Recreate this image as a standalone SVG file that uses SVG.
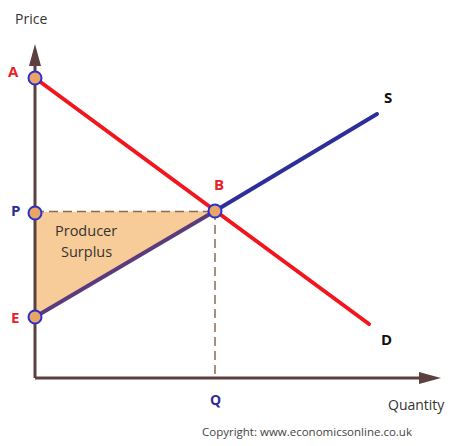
<svg xmlns="http://www.w3.org/2000/svg" width="457" height="446" viewBox="0 0 457 446">
<defs>
<style>
.t{font-family:"Open Sans","Liberation Sans",sans-serif;}
.lbl{font-family:"Open Sans","Liberation Sans",sans-serif;font-weight:bold;font-size:15px;}
.dot{fill:#E9A566;stroke:#2B2FD0;stroke-width:2;}
.dash{stroke:#8B6B4E;stroke-width:1.5;stroke-dasharray:9,5;fill:none;}
</style>
</defs>
<rect width="457" height="446" fill="#fff"/>
<g id="area">
<polygon points="35,212 215,211 35,317" fill="#F8CC98"/>
</g>
<g id="connectors">
<line class="dash" x1="35" y1="211.5" x2="215" y2="211.5"/>
<line class="dash" x1="215" y1="211" x2="215" y2="378"/>
<path d="M35,378 L35,62" stroke="#5C4040" stroke-width="3" fill="none"/>
<path d="M35,378 L423,378" stroke="#5C4040" stroke-width="3" fill="none"/>
<polygon points="35,44 29,66 41,66" fill="#5C4040"/>
<polygon points="441,378 419,372 419,384" fill="#5C4040"/>
<line x1="35" y1="78" x2="369" y2="324" stroke="#F4141C" stroke-width="4" stroke-linecap="round"/>
<line x1="35" y1="317" x2="215" y2="211" stroke="#5A3C7C" stroke-width="4" stroke-linecap="round"/>
<line x1="215" y1="211" x2="377" y2="114" stroke="#2C2E9A" stroke-width="4" stroke-linecap="round"/>
</g>
<g id="nodeA"><circle class="dot" cx="35" cy="78" r="6.5"/><text class="lbl" x="8" y="77" fill="#E8202A">A</text></g>
<g id="nodeP"><circle class="dot" cx="35" cy="213" r="6.5"/><text class="lbl" x="11" y="216" fill="#2D2E92">P</text></g>
<g id="nodeE"><circle class="dot" cx="35" cy="317" r="6.5"/><text class="lbl" x="11" y="323" fill="#E8202A">E</text></g>
<g id="nodeB"><circle class="dot" cx="215" cy="211" r="6.5"/><text class="lbl" x="214" y="190" fill="#E8202A">B</text></g>
<g id="labels">
<text class="t" x="15" y="24" font-size="14" fill="#333">Price</text>
<text class="t" x="384" y="103" font-size="15" font-weight="bold" fill="#111">S</text>
<text class="t" x="381" y="345" font-size="15" font-weight="bold" fill="#111">D</text>
<text class="t" x="210" y="405" font-size="14" font-weight="bold" fill="#2D2E92">Q</text>
<text class="t" x="388" y="410" font-size="14" fill="#333">Quantity</text>
<text class="t" x="202" y="436" font-size="11.5" fill="#444">Copyright: www.economicsonline.co.uk</text>
<text class="t" x="55" y="236" font-size="14.5" fill="#333">Producer</text>
<text class="t" x="61" y="257" font-size="14.5" fill="#333">Surplus</text>
</g>
</svg>
